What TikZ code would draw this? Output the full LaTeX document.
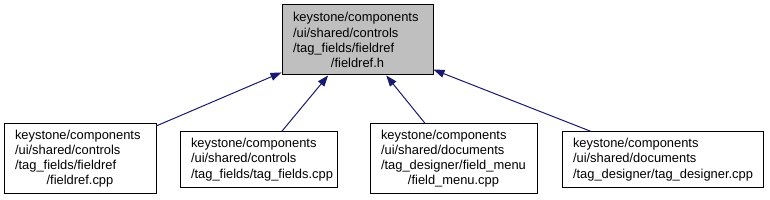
\documentclass[tikz,border=0pt]{standalone}
\usepackage{fontspec}
\setmainfont{Liberation Sans}
\usetikzlibrary{arrows.meta}
\definecolor{edgeblue}{HTML}{191970}
\definecolor{topgray}{HTML}{BFBFBF}
\tikzset{
  filebox/.style={draw=black, line width=1pt, fill=white, inner sep=0pt,
    align=left, font=\fontsize{12.9}{15.2}\selectfont},
  dep/.style={draw=edgeblue, line width=1pt, -{Triangle[length=11pt,width=8pt]}}
}
\newcommand{\lastline}[1]{\makebox[\linewidth][c]{#1}}
\begin{document}
\begin{tikzpicture}[x=1pt,y=-1pt]
\useasboundingbox (0,0) rectangle (770,200);
\node[filebox, fill=topgray, minimum width=151pt, minimum height=70pt, text width=129pt] (top) at (357.5,40)
  {keystone/components\\/ui/shared/controls\\/tag\_fields/fieldref\\\lastline{/fieldref.h}};
\node[filebox, minimum width=152pt, minimum height=69pt, text width=130pt] (b1) at (80,158.5)
  {keystone/components\\/ui/shared/controls\\/tag\_fields/fieldref\\\lastline{/fieldref.cpp}};
\node[filebox, minimum width=157pt, minimum height=55pt, text width=135pt] (b2) at (258.5,159.5)
  {keystone/components\\/ui/shared/controls\\/tag\_fields/tag\_fields.cpp};
\node[filebox, minimum width=167pt, minimum height=69pt, text width=145pt] (b3) at (453.5,158.5)
  {keystone/components\\/ui/shared/documents\\/tag\_designer/field\_menu\\\lastline{/field\_menu.cpp}};
\node[filebox, minimum width=201pt, minimum height=55pt, text width=179pt] (b4) at (662.5,159.5)
  {keystone/components\\/ui/shared/documents\\/tag\_designer/tag\_designer.cpp};
\draw[dep] (b1) -- (top);
\draw[dep] (b2) -- (top);
\draw[dep] (b3) -- (top);
\draw[dep] (b4) -- (top);
\end{tikzpicture}
\end{document}
